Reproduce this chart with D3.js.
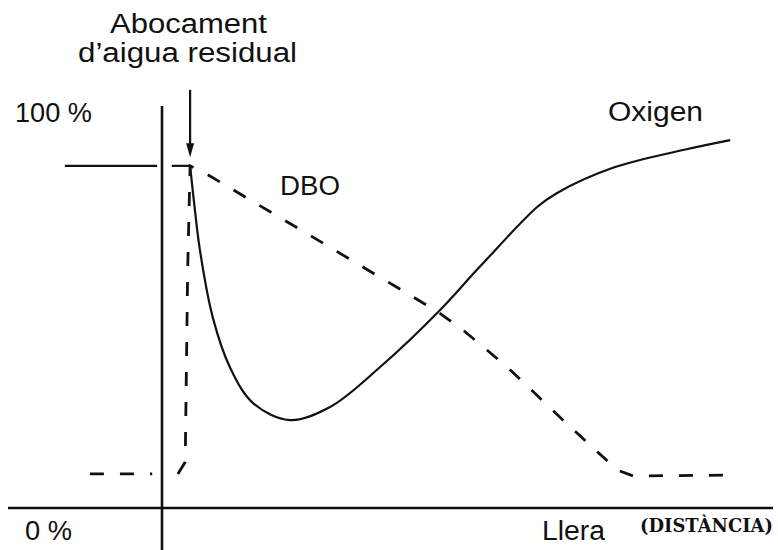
<!DOCTYPE html>
<html>
<head>
<meta charset="utf-8">
<script src="https://cdnjs.cloudflare.com/ajax/libs/d3/7.8.5/d3.min.js"></script>
<style>
    body { margin: 0; background: #fff; }
    .lbl { font-family: "Liberation Sans", Arial, sans-serif; font-size: 27px; fill: #111; }
    .dist { font-family: "DejaVu Serif", serif; font-weight: bold; font-size: 18px; fill: #111; }
    .axis { stroke: #111; stroke-width: 2.6; fill: none; }
    .oxy { stroke: #111; stroke-width: 2.2; fill: none; }
    .dbo { stroke: #111; stroke-width: 2.8; fill: none; stroke-dasharray: 14,16; }
</style>
</head>
<body>
<div id="chart"></div>
<script>
// distance along the river (0 = discharge bank) and % of saturation
var oxygenUpstream = [[-15.9, 86.4], [-0.8, 86.4]];
var oxygenFlat = [[1.6, 86.4], [4.6, 86.4]];
var oxygenSag = [
    [4.6, 86.4], [5.2, 77.8], [6.2, 65.2], [8.3, 48.2], [11.1, 35.6],
    [14.9, 26.5], [20.9, 22.2], [27.5, 25.5], [35.7, 35.6], [45.2, 49.5],
    [52.0, 60.9], [61.4, 76.0], [64.6, 79.5], [73.8, 85.9], [85.3, 90.4],
    [93.0, 92.9]
];

var dboUpstream = [[-11.8, 8.6], [-1.6, 8.6]];
var dboDownstream = [
    [2.6, 8.6], [3.8, 11.6], [4.2, 60.0], [4.6, 86.4], [7.0, 84.6],
    [24.7, 68.4], [45.2, 49.5], [49.3, 44.9], [56.5, 35.6], [66.8, 20.5],
    [74.5, 9.6], [77.1, 8.1], [93.5, 8.3]
];

var discharge = {x: 4.6, from: 105.6, to: 88.6};
var axisX = {from: -25.2, to: 100};
var axisY = {from: -12, to: 101.5};

var width = 778,
    height = 550;

var svg = d3.select("#chart").append("svg")
    .attr("width", width)
    .attr("height", height);

var x = d3.scaleLinear().domain([0, 100]).range([162, 773]);
var y = d3.scaleLinear().domain([0, 100]).range([508, 112]);

//*axes
svg.append("line").attr("class", "axis")
    .attr("x1", x(axisX.from)).attr("x2", x(axisX.to))
    .attr("y1", y(0)).attr("y2", y(0));
svg.append("line").attr("class", "axis")
    .attr("x1", x(0)).attr("x2", x(0))
    .attr("y1", y(axisY.from)).attr("y2", y(axisY.to));

var line = d3.line().x(d => x(d[0])).y(d => y(d[1]));
var smooth = d3.line().x(d => x(d[0])).y(d => y(d[1])).curve(d3.curveCatmullRom.alpha(0.5));

//*oxygen
svg.append("path").attr("class", "oxy").attr("d", line(oxygenUpstream));
svg.append("path").attr("class", "oxy").attr("d", line(oxygenFlat));
svg.append("path").attr("class", "oxy").attr("d", smooth(oxygenSag));

//*DBO
svg.append("path").attr("class", "dbo").attr("d", line(dboUpstream));
svg.append("path").attr("class", "dbo").attr("d", line(dboDownstream));

//*discharge arrow
svg.append("line").attr("class", "oxy")
    .attr("stroke-width", 1.8)
    .attr("x1", x(discharge.x)).attr("x2", x(discharge.x))
    .attr("y1", y(discharge.from)).attr("y2", y(discharge.to) - 10);
svg.append("path")
    .attr("fill", "#111")
    .attr("d", "M" + (x(discharge.x) - 4) + "," + (y(discharge.to) - 14) +
        "L" + (x(discharge.x) + 4) + "," + (y(discharge.to) - 14) +
        "L" + x(discharge.x) + "," + y(discharge.to) + "Z");

//*labels
var labels = [
    {t: "Abocament", x: 110, y: 33, w: 157},
    {t: "d\u2019aigua residual", x: 78, y: 62, w: 219},
    {t: "100 %", x: 15, y: 122, w: 77},
    {t: "Oxigen", x: 608, y: 121, w: 95},
    {t: "DBO", x: 280, y: 195, w: 60},
    {t: "0 %", x: 25, y: 540, w: 47},
    {t: "Llera", x: 542, y: 540, w: 63}
];
svg.selectAll(".lbl")
    .data(labels)
    .enter().append("text")
    .attr("class", "lbl")
    .attr("x", d => d.x)
    .attr("y", d => d.y)
    .attr("textLength", d => d.w)
    .attr("lengthAdjust", "spacingAndGlyphs")
    .text(d => d.t);

svg.append("text")
    .attr("class", "dist")
    .attr("x", 640).attr("y", 532)
    .attr("textLength", 133)
    .attr("lengthAdjust", "spacingAndGlyphs")
    .text("(DISTÀNCIA)");
</script>
</body>
</html>
